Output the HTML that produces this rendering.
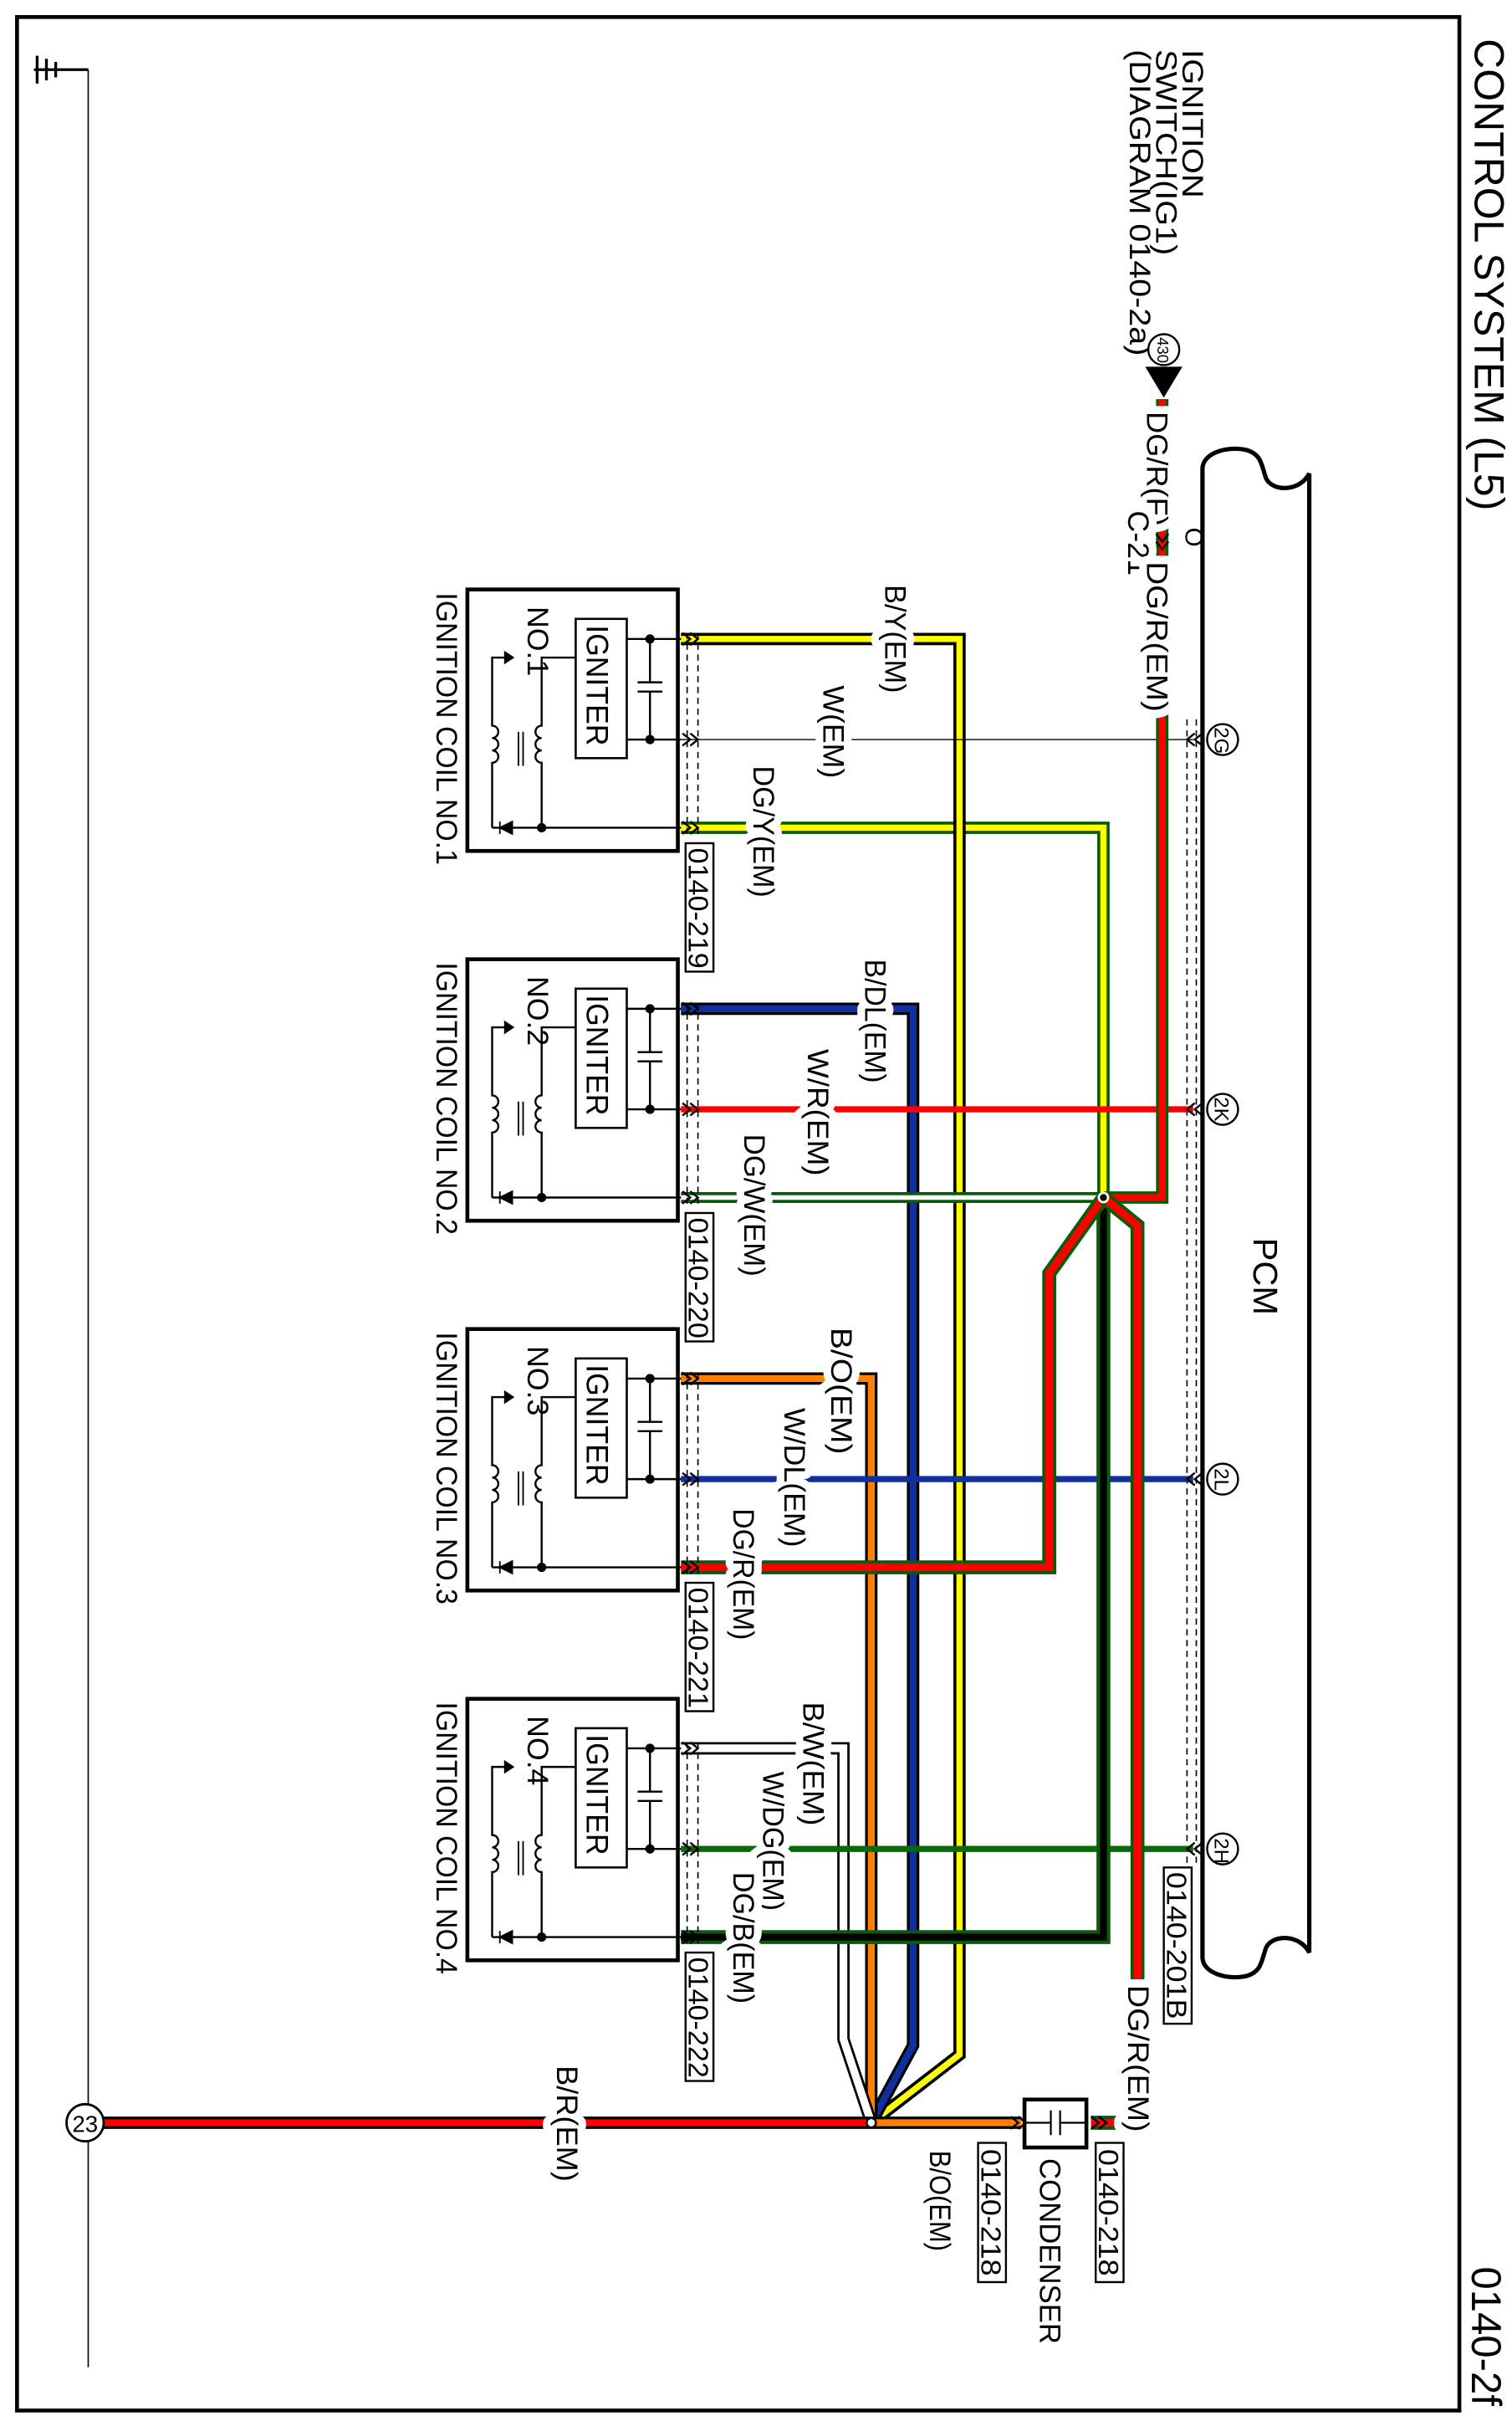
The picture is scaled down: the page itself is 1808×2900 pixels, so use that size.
<!DOCTYPE html>
<html><head><meta charset="utf-8">
<style>
html,body{margin:0;padding:0;background:#fff;}
svg{display:block;}
text{font-family:"Liberation Sans",Arial,sans-serif;fill:#000;}
.lb{font-size:19px;stroke:#fff;stroke-width:10px;paint-order:stroke;stroke-linejoin:round;}
</style></head>
<body>
<svg xmlns="http://www.w3.org/2000/svg" width="1808" height="2900" viewBox="0 0 977 1568" preserveAspectRatio="none">
<defs>
<g id="coil" fill="none" stroke="#000">
  <rect x="302" y="0" width="136" height="169" stroke-width="2.5"/>
  <rect x="372" y="19" width="33" height="90" stroke-width="1.4"/>
  <path d="M405 32H440M405 97H440M420 32V60M412 60H428M412 66H428M420 66V97" stroke-width="1.3"/>
  <path d="M318 154H440" stroke-width="1.3"/>
  <path d="M372 44H350V88 a4 4 0 0 0 0 8 a4 4 0 0 0 0 8 a4 4 0 0 0 0 8 V154" stroke-width="1.3"/>
  <path d="M330 44H318V88 a4 4 0 0 1 0 8 a4 4 0 0 1 0 8 a4 4 0 0 1 0 8 V154" stroke-width="1.3"/>
  <path d="M335 92V114M338 92V114" stroke-width="1"/>
  <path d="M326 40L332 44L326 48Z" fill="#000" stroke-width="0.5"/>
  <path d="M323 150V158M323 154L331 150V158Z" fill="#000" stroke-width="1"/>
  <circle cx="420" cy="32" r="3" fill="#000" stroke="none"/>
  <circle cx="420" cy="97" r="3" fill="#000" stroke="none"/>
  <circle cx="350" cy="154" r="3" fill="#000" stroke="none"/>
  <path d="M444 28V158M451 28V158" stroke-width="0.9" stroke-dasharray="4,3"/>
  <g stroke-width="1.3">
   <path d="M441 28L446 32L441 36M446 28L451 32L446 36"/>
   <path d="M441 93L446 97L441 101M446 93L451 97L446 101"/>
   <path d="M441 150L446 154L441 158M446 150L451 154L446 158"/>
  </g>
</g>
</defs>

<rect x="11" y="11" width="932" height="1547" fill="none" stroke="#000" stroke-width="2.5"/>
<text transform="translate(953,25) rotate(90)" font-size="27" textLength="305" lengthAdjust="spacingAndGlyphs">CONTROL SYSTEM (L5)</text>
<text transform="translate(951,1465) rotate(90)" font-size="27" textLength="90" lengthAdjust="spacingAndGlyphs">0140-2f</text>

<path d="M57 45V1530" stroke="#000" stroke-width="0.9"/>
<path d="M22 45H57M24 36V54M30 38V52M36 40V50" stroke="#000" stroke-width="1.8" fill="none"/>

<text transform="translate(764,32) rotate(90)" font-size="19" textLength="96" lengthAdjust="spacingAndGlyphs">IGNITION</text>
<text transform="translate(747,32) rotate(90)" font-size="19" textLength="133" lengthAdjust="spacingAndGlyphs">SWITCH(IG1)</text>
<text transform="translate(730,32) rotate(90)" font-size="19" textLength="198" lengthAdjust="spacingAndGlyphs">(DIAGRAM 0140-2a)</text>
<circle cx="752" cy="226" r="10" fill="#fff" stroke="#000" stroke-width="1.3"/>
<text transform="translate(748,218) rotate(90)" font-size="10">430</text>
<path d="M740 237H764L752 257Z" fill="#000"/>

<path d="M777 1265V303C777 292 795 288 806 291C815 294 815 300 818 309C822 318 840 318 846 306V1262C840 1250 822 1250 818 1259C815 1268 815 1274 806 1277C795 1280 777 1276 777 1265Z" fill="none" stroke="#000" stroke-width="2.8"/>
<path d="M767 465V1205M773 465V1205" stroke="#000" stroke-width="0.9" stroke-dasharray="4,3"/>
<text transform="translate(810,800) rotate(90)" font-size="22" textLength="50" lengthAdjust="spacingAndGlyphs">PCM</text>
<text transform="translate(766,341) rotate(90)" font-size="16">O</text>

<g fill="none" stroke-linejoin="miter">
 <path d="M440 535H713V774" stroke="#0a5a0a" stroke-width="8"/>
 <path d="M440 535H713V774" stroke="#ffff00" stroke-width="4"/>
 <path d="M440 413H620V1328L563 1372" stroke="#000" stroke-width="8"/>
 <path d="M440 413H620V1328L563 1372" stroke="#ffff00" stroke-width="4"/>
 <path d="M440 652H590V1322L563 1372" stroke="#000" stroke-width="8"/>
 <path d="M440 652H590V1322L563 1372" stroke="#1030a0" stroke-width="4.5"/>
 <path d="M440 891H563V1372" stroke="#000" stroke-width="8"/>
 <path d="M440 891H563V1372" stroke="#ff8000" stroke-width="4.5"/>
 <path d="M440 1130H545V1318L563 1372" stroke="#000" stroke-width="8"/>
 <path d="M440 1130H545V1318L563 1372" stroke="#fff" stroke-width="5"/>
 <path d="M440 478H771" stroke="#000" stroke-width="0.8"/>
 <path d="M440 717H771" stroke="#ff0000" stroke-width="4"/>
 <path d="M440 774H713" stroke="#0a5a0a" stroke-width="7"/>
 <path d="M440 774H713" stroke="#fff" stroke-width="3"/>
 <path d="M440 956H771" stroke="#1030a0" stroke-width="4"/>
 <path d="M440 1195H771" stroke="#0a6a0a" stroke-width="4"/>
 <path d="M713 774V1252H440" stroke="#0a5a0a" stroke-width="9"/>
 <path d="M713 774V1252H440" stroke="#000" stroke-width="4.5"/>
 <path d="M751 258V774H713" stroke="#0a5a0a" stroke-width="8"/>
 <path d="M751 258V774H713" stroke="#ff0000" stroke-width="4.5"/>
 <path d="M713 774L678 823V1013H440" stroke="#0a5a0a" stroke-width="9"/>
 <path d="M713 774L678 823V1013H440" stroke="#ff0000" stroke-width="5"/>
 <path d="M713 774L735 792V1372H705" stroke="#0a5a0a" stroke-width="9"/>
 <path d="M713 774L735 792V1372H705" stroke="#ff0000" stroke-width="5"/>
 <path d="M563 1372H67" stroke="#000" stroke-width="8"/>
 <path d="M563 1372H67" stroke="#ff0000" stroke-width="4.5"/>
 <path d="M563 1372H660" stroke="#000" stroke-width="8"/>
 <path d="M563 1372H660" stroke="#ff8000" stroke-width="4.5"/>
</g>
<circle cx="713" cy="774" r="3" fill="#000" stroke="#fff" stroke-width="1.5"/>
<circle cx="563" cy="1372" r="3" fill="#fff" stroke="#000" stroke-width="1.3"/>

<path d="M747 345L751 350L755 345M747 350L751 355L755 350" fill="none" stroke="#000" stroke-width="1.3"/>

<g fill="none" stroke="#000" stroke-width="1.3">
 <path d="M772 474L767 478L772 482M777 474L772 478L777 482"/>
 <path d="M772 713L767 717L772 721M777 713L772 717L777 721"/>
 <path d="M772 952L767 956L772 960M777 952L772 956L777 960"/>
 <path d="M772 1191L767 1195L772 1199M777 1191L772 1195L777 1199"/>
 <circle cx="790" cy="478" r="10" fill="#fff"/>
 <circle cx="790" cy="717" r="10" fill="#fff"/>
 <circle cx="790" cy="956" r="10" fill="#fff"/>
 <circle cx="790" cy="1195" r="10" fill="#fff"/>
</g>
<g font-size="13">
 <text transform="translate(785,470) rotate(90)">2G</text>
 <text transform="translate(785,709) rotate(90)">2K</text>
 <text transform="translate(785,949) rotate(90)">2L</text>
 <text transform="translate(785,1188) rotate(90)">2H</text>
</g>
<rect x="752" y="1207" width="18" height="101" fill="#fff" stroke="#000" stroke-width="1.3"/>
<text transform="translate(754,1210) rotate(90)" font-size="18" textLength="95" lengthAdjust="spacingAndGlyphs">0140-201B</text>

<use href="#coil" transform="translate(0,381)"/>
<use href="#coil" transform="translate(0,620)"/>
<use href="#coil" transform="translate(0,859)"/>
<use href="#coil" transform="translate(0,1098)"/>

<g font-size="20">
 <text transform="translate(379,404) rotate(90)" textLength="78" lengthAdjust="spacingAndGlyphs">IGNITER</text>
 <text transform="translate(379,643) rotate(90)" textLength="78" lengthAdjust="spacingAndGlyphs">IGNITER</text>
 <text transform="translate(379,882) rotate(90)" textLength="78" lengthAdjust="spacingAndGlyphs">IGNITER</text>
 <text transform="translate(379,1121) rotate(90)" textLength="78" lengthAdjust="spacingAndGlyphs">IGNITER</text>
</g>
<g font-size="19">
 <text transform="translate(341,392) rotate(90)" textLength="45" lengthAdjust="spacingAndGlyphs">NO.1</text>
 <text transform="translate(341,631) rotate(90)" textLength="45" lengthAdjust="spacingAndGlyphs">NO.2</text>
 <text transform="translate(341,870) rotate(90)" textLength="45" lengthAdjust="spacingAndGlyphs">NO.3</text>
 <text transform="translate(341,1109) rotate(90)" textLength="45" lengthAdjust="spacingAndGlyphs">NO.4</text>
 <text transform="translate(282,383) rotate(90)" textLength="176" lengthAdjust="spacingAndGlyphs">IGNITION COIL NO.1</text>
 <text transform="translate(282,622) rotate(90)" textLength="176" lengthAdjust="spacingAndGlyphs">IGNITION COIL NO.2</text>
 <text transform="translate(282,861) rotate(90)" textLength="176" lengthAdjust="spacingAndGlyphs">IGNITION COIL NO.3</text>
 <text transform="translate(282,1100) rotate(90)" textLength="176" lengthAdjust="spacingAndGlyphs">IGNITION COIL NO.4</text>
</g>
<g fill="#fff" stroke="#000" stroke-width="1.3">
 <rect x="443" y="545" width="18" height="83"/>
 <rect x="443" y="784" width="18" height="83"/>
 <rect x="443" y="1023" width="18" height="83"/>
 <rect x="443" y="1262" width="18" height="83"/>
</g>
<g font-size="18">
 <text transform="translate(445,548) rotate(90)" textLength="78" lengthAdjust="spacingAndGlyphs">0140-219</text>
 <text transform="translate(445,787) rotate(90)" textLength="78" lengthAdjust="spacingAndGlyphs">0140-220</text>
 <text transform="translate(445,1026) rotate(90)" textLength="78" lengthAdjust="spacingAndGlyphs">0140-221</text>
 <text transform="translate(445,1265) rotate(90)" textLength="78" lengthAdjust="spacingAndGlyphs">0140-222</text>
</g>

<path d="M653 1368L658 1372L653 1376M658 1368L663 1372L658 1376M705 1368L710 1372L705 1376M710 1368L715 1372L710 1376" fill="none" stroke="#000" stroke-width="1.3"/>
<rect x="662" y="1357" width="40" height="31" fill="#fff" stroke="#000" stroke-width="2.5"/>
<path d="M662 1372H679M685 1372H702M679 1364V1380M685 1364V1380" stroke="#000" stroke-width="1.2"/>
<text transform="translate(672,1395) rotate(90)" font-size="19" textLength="120" lengthAdjust="spacingAndGlyphs">CONDENSER</text>
<rect x="708" y="1385" width="18" height="90" fill="#fff" stroke="#000" stroke-width="1.3"/>
<text transform="translate(710,1389) rotate(90)" font-size="18" textLength="82" lengthAdjust="spacingAndGlyphs">0140-218</text>
<rect x="632" y="1385" width="18" height="90" fill="#fff" stroke="#000" stroke-width="1.3"/>
<text transform="translate(634,1389) rotate(90)" font-size="18" textLength="82" lengthAdjust="spacingAndGlyphs">0140-218</text>

<circle cx="55" cy="1372" r="12" fill="#fff" stroke="#000" stroke-width="1.5"/>
<text x="55" y="1378" font-size="15" text-anchor="middle">23</text>

<text class="lb" transform="translate(741,266) rotate(90)" textLength="74" lengthAdjust="spacingAndGlyphs">DG/R(F)</text>
<text class="lb" transform="translate(729,330) rotate(90)" textLength="42" lengthAdjust="spacingAndGlyphs">C-21</text>
<text class="lb" transform="translate(741,363) rotate(90)" textLength="97" lengthAdjust="spacingAndGlyphs">DG/R(EM)</text>
<text class="lb" transform="translate(572,378) rotate(90)" textLength="70" lengthAdjust="spacingAndGlyphs">B/Y(EM)</text>
<text class="lb" transform="translate(532,443) rotate(90)" textLength="60" lengthAdjust="spacingAndGlyphs">W(EM)</text>
<text class="lb" transform="translate(487,495) rotate(90)" textLength="85" lengthAdjust="spacingAndGlyphs">DG/Y(EM)</text>
<text class="lb" transform="translate(559,620) rotate(90)" textLength="80" lengthAdjust="spacingAndGlyphs">B/DL(EM)</text>
<text class="lb" transform="translate(522,678) rotate(90)" textLength="82" lengthAdjust="spacingAndGlyphs">W/R(EM)</text>
<text class="lb" transform="translate(481,733) rotate(90)" textLength="92" lengthAdjust="spacingAndGlyphs">DG/W(EM)</text>
<text class="lb" transform="translate(537,858) rotate(90)" textLength="82" lengthAdjust="spacingAndGlyphs">B/O(EM)</text>
<text class="lb" transform="translate(507,910) rotate(90)" textLength="90" lengthAdjust="spacingAndGlyphs">W/DL(EM)</text>
<text class="lb" transform="translate(474,975) rotate(90)" textLength="85" lengthAdjust="spacingAndGlyphs">DG/R(EM)</text>
<text class="lb" transform="translate(519,1100) rotate(90)" textLength="80" lengthAdjust="spacingAndGlyphs">B/W(EM)</text>
<text class="lb" transform="translate(493,1145) rotate(90)" textLength="90" lengthAdjust="spacingAndGlyphs">W/DG(EM)</text>
<text class="lb" transform="translate(474,1210) rotate(90)" textLength="85" lengthAdjust="spacingAndGlyphs">DG/B(EM)</text>
<text class="lb" transform="translate(729,1283) rotate(90)" textLength="95" lengthAdjust="spacingAndGlyphs">DG/R(EM)</text>
<text class="lb" transform="translate(360,1335) rotate(90)" textLength="75" lengthAdjust="spacingAndGlyphs">B/R(EM)</text>
<text class="lb" transform="translate(601,1390) rotate(90)" textLength="65" lengthAdjust="spacingAndGlyphs">B/O(EM)</text>
</svg>
</body></html>
